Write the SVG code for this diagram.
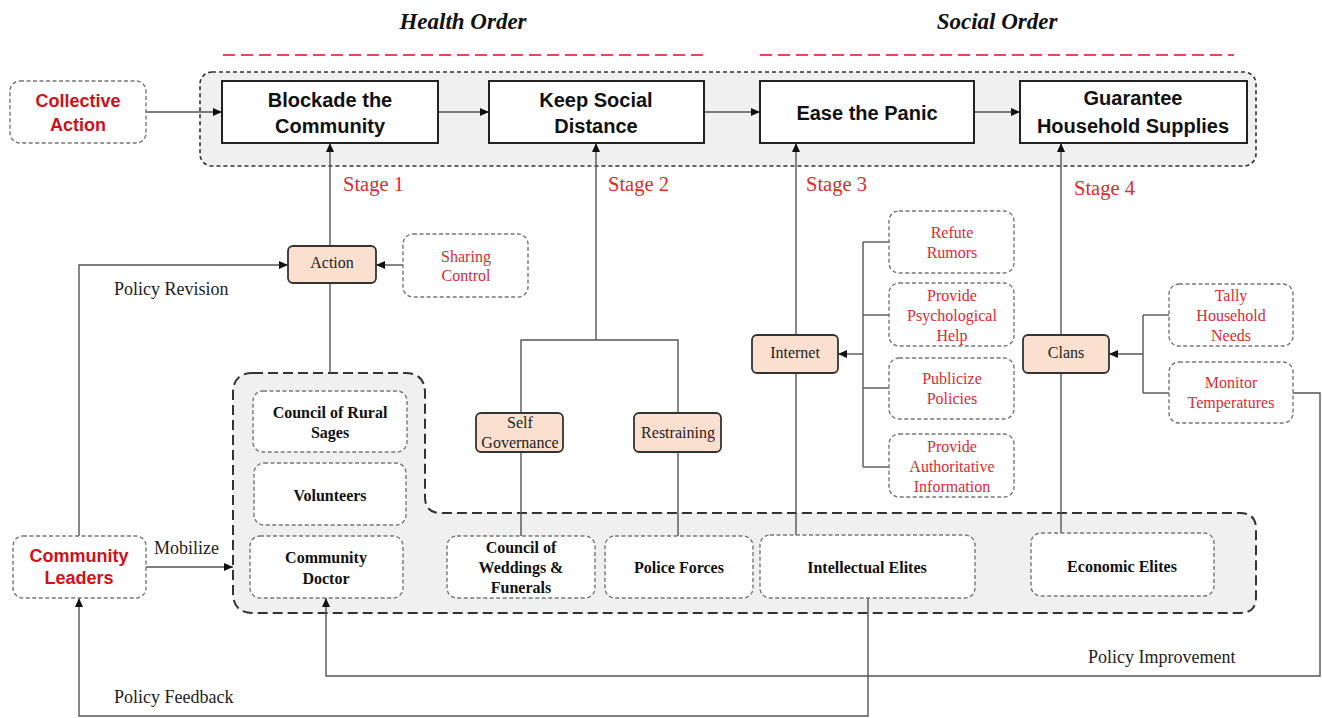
<svg xmlns="http://www.w3.org/2000/svg" width="1322" height="718" viewBox="0 0 1322 718">
<style>
.bg{fill:#fff}
.cont{fill:#f0f0f0;stroke:#333;stroke-width:1.6;stroke-dasharray:4 3}
.big{fill:#f0f0f0;stroke:#333;stroke-width:2;stroke-dasharray:10 5}
.main{fill:#fff;stroke:#222;stroke-width:2}
.dash{fill:#fff;stroke:#777;stroke-width:1.4;stroke-dasharray:4 2.5}
.peach{fill:#fbe0cf;stroke:#333;stroke-width:1.8}
.ln{fill:none;stroke:#555;stroke-width:1.4}
.red-dash{stroke:#e04a5a;stroke-width:2;stroke-dasharray:12 6}
.h{font-family:"Liberation Serif",serif;font-weight:bold;font-style:italic;font-size:23px;fill:#111;text-anchor:middle}
.mt{font-family:"Liberation Sans",Arial,sans-serif;font-weight:bold;font-size:20px;fill:#111;text-anchor:middle}
.rs{font-family:"Liberation Sans",Arial,sans-serif;font-weight:bold;font-size:18px;fill:#d0101a;text-anchor:middle}
.st{font-family:"Liberation Serif",serif;font-size:20.5px;fill:#e02b2b}
.lb{font-family:"Liberation Serif",serif;font-size:18px;fill:#222}
.nb{font-family:"Liberation Serif",serif;font-weight:bold;font-size:16px;fill:#111;text-anchor:middle}
.pe{font-family:"Liberation Serif",serif;font-size:16px;fill:#222;text-anchor:middle}
.rt{font-family:"Liberation Serif",serif;font-size:16px;fill:#dd2a35;text-anchor:middle}
</style>
<defs>
<marker id="arr" markerWidth="9" markerHeight="8" refX="9" refY="4" orient="auto" markerUnits="userSpaceOnUse">
<path d="M0,0 L9,4 L0,8 Z" fill="#111"/>
</marker>
</defs>
<rect class="bg" x="0" y="0" width="1322" height="718"/>

<g id="titles">
<text class="h" x="463" y="29">Health Order</text>
<text class="h" x="997" y="29">Social Order</text>
<line class="red-dash" x1="223" y1="55" x2="704" y2="55"/>
<line class="red-dash" x1="760" y1="55" x2="1234" y2="55"/>
</g>

<g id="stage-container">
<rect class="cont" x="200" y="72" width="1056" height="94" rx="12"/>
</g>
<g id="resource-container">
<path class="big" d="M253,373 H405 Q425,373 425,393 V497 Q425,513 441,513 H1240 Q1256,513 1256,529 V597 Q1256,613 1240,613 H253 Q233,613 233,593 V393 Q233,373 253,373 Z"/>
</g>

<g id="connectors">
<line class="ln" x1="146" y1="112" x2="222" y2="112" marker-end="url(#arr)"/>
<line class="ln" x1="438" y1="112" x2="489" y2="112" marker-end="url(#arr)"/>
<line class="ln" x1="704" y1="112" x2="760" y2="112" marker-end="url(#arr)"/>
<line class="ln" x1="974" y1="112" x2="1020" y2="112" marker-end="url(#arr)"/>
<line class="ln" x1="330" y1="246" x2="330" y2="143" marker-end="url(#arr)"/>
<line class="ln" x1="330" y1="283" x2="330" y2="373"/>
<line class="ln" x1="403" y1="265" x2="376" y2="265" marker-end="url(#arr)"/>
<polyline class="ln" points="79,536 79,265 288,265" marker-end="url(#arr)"/>
<line class="ln" x1="596" y1="340" x2="596" y2="143" marker-end="url(#arr)"/>
<polyline class="ln" points="521,413 521,340 678,340 678,413"/>
<line class="ln" x1="521" y1="452" x2="521" y2="536"/>
<line class="ln" x1="678" y1="452" x2="678" y2="536"/>
<line class="ln" x1="796" y1="335" x2="796" y2="143" marker-end="url(#arr)"/>
<line class="ln" x1="796" y1="535" x2="796" y2="373"/>
<line class="ln" x1="863" y1="354" x2="838" y2="354" marker-end="url(#arr)"/>
<line class="ln" x1="863" y1="242" x2="863" y2="467"/>
<line class="ln" x1="863" y1="242" x2="889" y2="242"/>
<line class="ln" x1="863" y1="315" x2="889" y2="315"/>
<line class="ln" x1="863" y1="388" x2="889" y2="388"/>
<line class="ln" x1="863" y1="467" x2="889" y2="467"/>
<line class="ln" x1="1061" y1="335" x2="1061" y2="143" marker-end="url(#arr)"/>
<line class="ln" x1="1061" y1="533" x2="1061" y2="373"/>
<line class="ln" x1="1143" y1="354" x2="1109" y2="354" marker-end="url(#arr)"/>
<line class="ln" x1="1143" y1="315" x2="1143" y2="393"/>
<line class="ln" x1="1143" y1="315" x2="1169" y2="315"/>
<line class="ln" x1="1143" y1="393" x2="1169" y2="393"/>
<line class="ln" x1="146" y1="567" x2="233" y2="567" marker-end="url(#arr)"/>
<polyline class="ln" points="868,598 868,716 79,716 79,598" marker-end="url(#arr)"/>
<polyline class="ln" points="1293,393 1320,393 1320,676 326,676 326,598" marker-end="url(#arr)"/>
</g>

<g id="labels">
<text class="st" x="343" y="191">Stage 1</text>
<text class="st" x="608" y="191">Stage 2</text>
<text class="st" x="806" y="191">Stage 3</text>
<text class="st" x="1074" y="195">Stage 4</text>
<text class="lb" x="114" y="295">Policy Revision</text>
<text class="lb" x="154" y="554">Mobilize</text>
<text class="lb" x="114" y="703">Policy Feedback</text>
<text class="lb" x="1088" y="663">Policy Improvement</text>
</g>

<g id="collective-action">
<rect class="dash" x="10" y="81" width="136" height="62" rx="10"/>
<text class="rs" x="78" y="107">Collective</text>
<text class="rs" x="78" y="131">Action</text>
</g>
<g id="blockade">
<rect class="main" x="222" y="81" width="216" height="62"/>
<text class="mt" x="330" y="107">Blockade the</text>
<text class="mt" x="330" y="133">Community</text>
</g>
<g id="keep-distance">
<rect class="main" x="489" y="81" width="215" height="62"/>
<text class="mt" x="596" y="107">Keep Social</text>
<text class="mt" x="596" y="133">Distance</text>
</g>
<g id="ease-panic">
<rect class="main" x="760" y="81" width="214" height="62"/>
<text class="mt" x="867" y="120">Ease the Panic</text>
</g>
<g id="guarantee">
<rect class="main" x="1020" y="81" width="227" height="62"/>
<text class="mt" x="1133" y="105">Guarantee</text>
<text class="mt" x="1133" y="133">Household Supplies</text>
</g>

<g id="action">
<rect class="peach" x="288" y="246" width="88" height="37" rx="5"/>
<text class="pe" x="332" y="268">Action</text>
</g>
<g id="sharing-control">
<rect class="dash" x="403" y="234" width="125" height="63" rx="10"/>
<text class="rt" x="466" y="262">Sharing</text>
<text class="rt" x="466" y="281">Control</text>
</g>
<g id="self-governance">
<rect class="peach" x="476" y="413" width="87" height="39" rx="5"/>
<text class="pe" x="520" y="428">Self</text>
<text class="pe" x="520" y="448">Governance</text>
</g>
<g id="restraining">
<rect class="peach" x="634" y="413" width="87" height="39" rx="5"/>
<text class="pe" x="678" y="438">Restraining</text>
</g>
<g id="internet">
<rect class="peach" x="752" y="335" width="86" height="38" rx="5"/>
<text class="pe" x="795" y="358">Internet</text>
</g>
<g id="clans">
<rect class="peach" x="1023" y="335" width="86" height="38" rx="5"/>
<text class="pe" x="1066" y="358">Clans</text>
</g>

<g id="refute-rumors">
<rect class="dash" x="889" y="211" width="125" height="62" rx="10"/>
<text class="rt" x="952" y="238">Refute</text>
<text class="rt" x="952" y="258">Rumors</text>
</g>
<g id="psych-help">
<rect class="dash" x="889" y="283" width="125" height="63" rx="10"/>
<text class="rt" x="952" y="301">Provide</text>
<text class="rt" x="952" y="321">Psychological</text>
<text class="rt" x="952" y="341">Help</text>
</g>
<g id="publicize">
<rect class="dash" x="889" y="358" width="125" height="61" rx="10"/>
<text class="rt" x="952" y="384">Publicize</text>
<text class="rt" x="952" y="404">Policies</text>
</g>
<g id="auth-info">
<rect class="dash" x="889" y="434" width="125" height="63" rx="10"/>
<text class="rt" x="952" y="452">Provide</text>
<text class="rt" x="952" y="472">Authoritative</text>
<text class="rt" x="952" y="492">Information</text>
</g>
<g id="tally">
<rect class="dash" x="1169" y="284" width="124" height="62" rx="10"/>
<text class="rt" x="1231" y="301">Tally</text>
<text class="rt" x="1231" y="321">Household</text>
<text class="rt" x="1231" y="341">Needs</text>
</g>
<g id="monitor">
<rect class="dash" x="1169" y="362" width="124" height="61" rx="10"/>
<text class="rt" x="1231" y="388">Monitor</text>
<text class="rt" x="1231" y="408">Temperatures</text>
</g>

<g id="rural-sages">
<rect class="dash" x="253" y="391" width="154" height="61" rx="10"/>
<text class="nb" x="330" y="418">Council of Rural</text>
<text class="nb" x="330" y="438">Sages</text>
</g>
<g id="volunteers">
<rect class="dash" x="254" y="463" width="152" height="62" rx="10"/>
<text class="nb" x="330" y="501">Volunteers</text>
</g>
<g id="community-doctor">
<rect class="dash" x="250" y="536" width="153" height="62" rx="10"/>
<text class="nb" x="326" y="563">Community</text>
<text class="nb" x="326" y="584">Doctor</text>
</g>
<g id="weddings-funerals">
<rect class="dash" x="447" y="536" width="148" height="62" rx="10"/>
<text class="nb" x="521" y="553">Council of</text>
<text class="nb" x="521" y="573">Weddings &amp;</text>
<text class="nb" x="521" y="593">Funerals</text>
</g>
<g id="police-forces">
<rect class="dash" x="605" y="536" width="148" height="62" rx="10"/>
<text class="nb" x="679" y="573">Police Forces</text>
</g>
<g id="intellectual-elites">
<rect class="dash" x="760" y="535" width="215" height="63" rx="10"/>
<text class="nb" x="867" y="573">Intellectual Elites</text>
</g>
<g id="economic-elites">
<rect class="dash" x="1031" y="533" width="183" height="63" rx="10"/>
<text class="nb" x="1122" y="572">Economic Elites</text>
</g>
<g id="community-leaders">
<rect class="dash" x="13" y="536" width="133" height="62" rx="10"/>
<text class="rs" x="79" y="562">Community</text>
<text class="rs" x="79" y="584">Leaders</text>
</g>
</svg>
